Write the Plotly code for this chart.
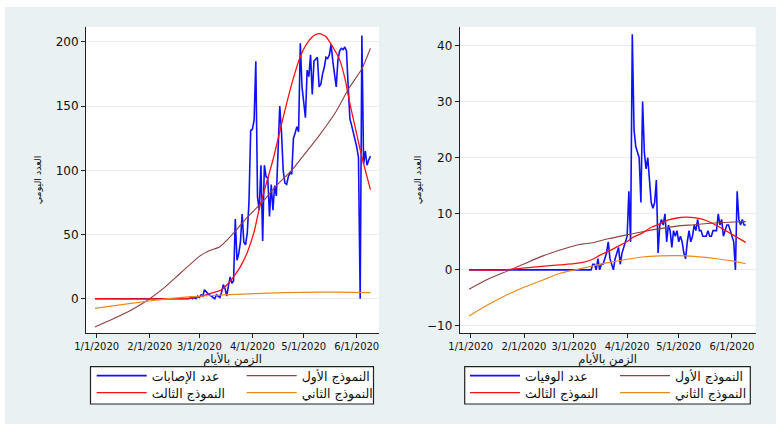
import pandas as pd
import plotly.graph_objects as go

# ---------------- data ----------------
dates = pd.date_range("2019-12-31", "2020-06-09", freq="D")
base = pd.Timestamp("2020-01-01")

# daily cases (Dec 31 .. Jun 9)
cases = [
    0, 0, 0, 0, 0, 0, 0, 0, 0, 0,
    0, 0, 0, 0, 0, 0, 0, 0, 0, 0,
    0, 0, 0, 0, 0, 0, 0, 0, 0, 0,
    0, 0, 0, 0, 0, 0, 0, 0, 0, 0,
    0, 0, 0, 0, 0, 0, 0, 0, 0, 0,
    0, 0, 0, 0, 0, 0,
    1, 0, 1, 0, 2, 1, 3, 2, 7, 5,
    4, 3, 2, 1, 0, 3, 2, 1, 5, 11,
    8, 2, 10, 17, 12, 14, 62, 30, 35, 44,
    66, 44, 42, 51, 75, 131, 132, 139, 185, 79,
    69, 104, 45, 104, 95, 94, 64, 89, 69, 88,
    80, 110, 150, 130, 100, 90, 89, 95, 98, 97,
    125, 129, 134, 130, 199, 165, 150, 141, 178, 173,
    190, 159, 185, 187, 188, 165, 167, 175, 180, 188,
    187, 190, 198, 185, 175, 165, 186, 193, 195, 194,
    196, 193, 165, 140, 135, 130, 125, 118, 110, 0,
    205, 105, 115, 104, 108, 111,
]

# daily deaths (Dec 31 .. Jun 9)
deaths = [
    0, 0, 0, 0, 0, 0, 0, 0, 0, 0,
    0, 0, 0, 0, 0, 0, 0, 0, 0, 0,
    0, 0, 0, 0, 0, 0, 0, 0, 0, 0,
    0, 0, 0, 0, 0, 0, 0, 0, 0, 0,
    0, 0, 0, 0, 0, 0, 0, 0, 0, 0,
    0, 0, 0, 0, 0, 0, 0, 0, 0, 0,
    0, 0, 0, 0, 0, 0, 0, 0, 0, 0,
    0, 0,
    1, 1, 0, 2, 0, 1, 1, 2, 3, 5,
    2, 1, 0, 2, 3, 4, 1, 3, 4, 5,
    6, 14, 5, 42, 25, 22, 21, 20, 12, 30,
    21, 18, 20, 15, 12, 11, 12, 16, 3, 8,
    9, 8, 10, 5, 8, 7, 4, 7, 6, 7,
    5, 6, 5, 3, 2, 5, 7, 5, 6, 8,
    7, 9, 7, 7, 6, 6, 6, 7, 6, 6,
    7, 7, 7, 10, 8, 9, 6, 7, 8, 8,
    7, 6, 5, 0, 14, 9, 8, 9, 8, 8,
]

# fitted models, cases panel (day offset from 1 Jan 2020, value)
m1c_days = [-1, 10, 20, 31, 39, 49, 60, 63, 66, 72, 80, 87, 98, 105, 114, 120, 130, 140, 147, 155, 160]
m1c_vals = [-22, -15.5, -9, 0, 8, 20, 33, 35.5, 37.5, 40.5, 51, 62, 77, 88, 100, 110, 127, 146, 163, 179, 195]
m2c_days = [-1, 20, 42, 55, 70, 85, 100, 120, 140, 160]
m2c_vals = [-7.5, -3.6, 0, 1.6, 2.7, 3.6, 4.3, 5.0, 5.1, 4.8]
m3c_days = [-1, 45, 55, 60, 65, 70, 73, 77, 80, 84, 88, 92, 95, 99, 103, 107, 111, 115, 119, 123, 127, 130,
            134, 138, 142, 145, 148, 151, 154, 157, 160]
m3c_vals = [0, 0, 0.5, 1.5, 3.5, 5.5, 7, 12, 17, 25, 36, 52, 70, 89, 108, 130, 152, 172, 188.5, 199, 205, 206.5,
            204, 196, 186, 172, 152, 134, 116, 100, 85]

# fitted models, deaths panel
m1d_days = [-1, 9, 23, 32, 42, 52, 62, 66, 71, 80, 91, 100, 110, 120, 130, 143, 150, 160]
m1d_vals = [-3.45, -1.8, 0, 1.2, 2.5, 3.55, 4.45, 4.65, 4.85, 5.55, 6.25, 6.8, 7.35, 7.8, 8.05, 8.4, 8.5, 8.6]
m2d_days = [-1, 10, 20, 31, 42, 52, 62, 71, 80, 91, 100, 110, 120, 130, 145, 152, 160]
m2d_vals = [-8.2, -6.2, -4.6, -3.1, -1.8, -0.6, 0.1, 0.7, 1.3, 1.9, 2.3, 2.5, 2.55, 2.4, 1.9, 1.6, 1.1]
m3d_days = [-1, 20, 30, 40, 52, 60, 66, 71, 75, 80, 85, 91, 95, 100, 105, 110, 115, 120, 125, 130, 135, 140,
            146, 150, 155, 160]
m3d_vals = [0, 0, 0.3, 0.6, 0.9, 1.1, 1.4, 1.9, 2.6, 3.3, 4.1, 5.06, 5.9, 6.6, 7.6, 8.2, 8.9, 9.25, 9.4, 9.3,
            9.0, 8.4, 7.4, 6.7, 5.8, 4.9]

tick_dates = ["2020-01-01", "2020-02-01", "2020-03-01", "2020-04-01", "2020-05-01", "2020-06-01"]
tick_text = ["1/1/2020", "2/1/2020", "3/1/2020", "4/1/2020", "5/1/2020", "6/1/2020"]

names_c = ["عدد الإصابات", "النموذج الأول", "النموذج الثالث", "النموذج الثاني"]
names_d = ["عدد الوفيات", "النموذج الأول", "النموذج الثالث", "النموذج الثاني"]
x_title = "الزمن بالأيام"
y_title = "العدد اليومي"


def to_dates(days):
    return base + pd.to_timedelta(days, unit="D")


# ---------------- styling ----------------
W, H = 776, 424
BG = "#EAF1F3"
BLUE = "#1010FF"
BROWN = "#933F3F"
RED = "#FF1010"
ORANGE = "#EE8A1A"
FONT = "DejaVu Sans"

fig = go.Figure()

panels = [
    dict(x="x", y="y", obs=cases, names=names_c, leg=("legend", "legend2"),
         m1=(m1c_days, m1c_vals), m2=(m2c_days, m2c_vals), m3=(m3c_days, m3c_vals)),
    dict(x="x2", y="y2", obs=deaths, names=names_d, leg=("legend3", "legend4"),
         m1=(m1d_days, m1d_vals), m2=(m2d_days, m2d_vals), m3=(m3d_days, m3d_vals)),
]

for p in panels:
    fig.add_trace(go.Scatter(x=dates, y=p["obs"], mode="lines", name=p["names"][0],
                             line=dict(color=BLUE, width=1.6), xaxis=p["x"], yaxis=p["y"],
                             legend=p["leg"][0]))
    fig.add_trace(go.Scatter(x=to_dates(p["m1"][0]), y=p["m1"][1], mode="lines", name=p["names"][1],
                             line=dict(color=BROWN, width=1.1, shape="spline", smoothing=0.6),
                             xaxis=p["x"], yaxis=p["y"], legend=p["leg"][0]))
    fig.add_trace(go.Scatter(x=to_dates(p["m3"][0]), y=p["m3"][1], mode="lines", name=p["names"][2],
                             line=dict(color=RED, width=1.3, shape="spline", smoothing=0.6),
                             xaxis=p["x"], yaxis=p["y"], legend=p["leg"][1]))
    fig.add_trace(go.Scatter(x=to_dates(p["m2"][0]), y=p["m2"][1], mode="lines", name=p["names"][3],
                             line=dict(color=ORANGE, width=1.2, shape="spline", smoothing=0.6),
                             xaxis=p["x"], yaxis=p["y"], legend=p["leg"][1]))


def px_x(v):
    return v / W


def px_y(v):
    return 1 - v / H


y_dom = [px_y(333), px_y(27)]

xcommon = dict(type="date", tickvals=tick_dates, ticktext=tick_text, ticks="outside", ticklen=4,
               tickcolor="#222", showline=True, linecolor="#222", linewidth=1, showgrid=False,
               zeroline=False, tickangle=0, tickfont=dict(family=FONT, size=10, color="#111"),
               title=dict(text=x_title, font=dict(family=FONT, size=11.5, color="#111"), standoff=0),
               automargin=False)
ycommon = dict(ticks="outside", ticklen=4, tickcolor="#222", showline=True, linecolor="#222",
               linewidth=1, showgrid=True, gridcolor="#E6EEF0", gridwidth=1, zeroline=False,
               tickfont=dict(family=FONT, size=12, color="#111"), automargin=False)

fig.update_layout(
    width=W, height=H, autosize=False, margin=dict(l=0, r=0, t=0, b=0, autoexpand=False),
    paper_bgcolor=BG, plot_bgcolor="white", font=dict(family=FONT),
    xaxis=dict(xcommon, domain=[px_x(86), px_x(379)], anchor="y",
               range=["2019-12-25 18:00", "2020-06-14 00:00"]),
    yaxis=dict(ycommon, domain=y_dom, anchor="x", range=[-26.7, 211.6],
               tickvals=[0, 50, 100, 150, 200],
               title=dict(text=y_title, font=dict(family=FONT, size=9.5, color="#111"), standoff=12)),
    xaxis2=dict(xcommon, domain=[px_x(459.7), px_x(755.7)], anchor="y2",
                range=["2019-12-25 14:00", "2020-06-14 19:00"]),
    yaxis2=dict(ycommon, domain=y_dom, anchor="x2", range=[-11.25, 43.3],
                tickvals=[-10, 0, 10, 20, 30, 40],
                title=dict(text=y_title, font=dict(family=FONT, size=9.5, color="#111"), standoff=3)),
)

legcommon = dict(orientation="h", xanchor="left", yanchor="middle", entrywidth=85,
                 entrywidthmode="pixels", itemwidth=50, bgcolor="rgba(0,0,0,0)", borderwidth=0,
                 font=dict(family=FONT, size=12.5, color="#111"))
fig.update_layout(
    legend=dict(legcommon, x=px_x(91.7), y=px_y(376.0)),
    legend2=dict(legcommon, x=px_x(91.7), y=px_y(393.0)),
    legend3=dict(legcommon, x=px_x(465), y=px_y(376.0)),
    legend4=dict(legcommon, x=px_x(465), y=px_y(393.0)),
)

# page frame and legend boxes (decoration)
shapes = [
    dict(type="rect", xref="paper", yref="paper", x0=0, x1=px_x(5), y0=0, y1=1,
         fillcolor="white", line=dict(width=0), layer="below"),
    dict(type="rect", xref="paper", yref="paper", x0=0, x1=1, y0=px_y(7), y1=1,
         fillcolor="white", line=dict(width=0), layer="below"),
    dict(type="rect", xref="paper", yref="paper", x0=px_x(90.5), x1=px_x(373.5), y0=px_y(404),
         y1=px_y(366.7), fillcolor="white", line=dict(color="#222", width=1.2), layer="below"),
    dict(type="rect", xref="paper", yref="paper", x0=px_x(464.7), x1=px_x(750.3), y0=px_y(404),
         y1=px_y(366.7), fillcolor="white", line=dict(color="#222", width=1.2), layer="below"),
]
fig.update_layout(shapes=shapes)

fig.write_html("out.html", config={"responsive": False, "displayModeBar": False},
               post_script="document.body.style.margin='0';document.body.style.overflow='hidden';")
